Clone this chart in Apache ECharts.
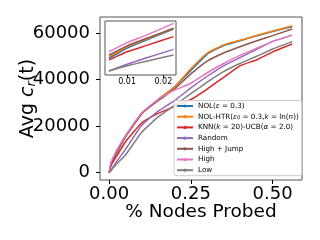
<!DOCTYPE html>
<html><head><meta charset="utf-8">
<script src="https://cdn.jsdelivr.net/npm/echarts@6/dist/echarts.min.js"></script>
<style>html,body{margin:0;padding:0;background:#fff}#c{width:320px;height:240px}</style>
</head><body><div id="c"></div>
<script>
const xValues  = [0, 0.005, 0.01, 0.015, 0.0228, 0.05, 0.1, 0.15, 0.2, 0.25, 0.3, 0.35, 0.4, 0.45, 0.5, 0.56];
const nol      = [0, 3100, 5000, 6400, 8500, 15500, 25500, 31500, 36800, 44000, 51000, 54700, 56800, 58800, 60800, 62800];
const nolHtr   = [0, 3400, 5200, 6550, 8600, 15500, 25500, 31500, 37000, 44800, 51500, 55000, 57000, 59000, 61000, 63200];
const knn      = [0, 2800, 4300, 5400, 7100, 13300, 21500, 25500, 28500, 31500, 36000, 41000, 46000, 48500, 52000, 55400];
const randomS  = [0, 750, 2000, 3100, 4750, 10000, 20500, 26500, 31000, 36500, 41500, 46000, 49500, 53000, 56500, 59200];
const highJump = [0, 3700, 5400, 6700, 8650, 15500, 25500, 31000, 36000, 42500, 48000, 51500, 54200, 56700, 59000, 61800];
const high     = [0, 4300, 6000, 7300, 9550, 16000, 25800, 31500, 35500, 38500, 43000, 47000, 50500, 53500, 56500, 59200];
const low      = [0, 750, 1700, 2500, 3700, 7600, 17500, 24000, 29000, 34000, 39000, 43500, 47000, 50000, 53200, 56400];
const seriesNames = ['NOL(ε = 0.3)', 'NOL-HTR(ε0 = 0.3,k = ln(n))', 'KNN(k = 20)-UCB(α = 2.0)', 'Random', 'High + Jump', 'High', 'Low'];
const seriesColors = ['#1f77b4', '#ff7f0e', '#d62728', '#9467bd', '#8c564b', '#e377c2', '#7f7f7f'];
const xTicks = [0, 0.25, 0.5];
const yTicks = [0, 20000, 40000, 60000];
const insetXTicks = [0.01, 0.02];
const insetRange = [0.005, 0.0228];

const allData = [nol, nolHtr, knn, randomS, highJump, high, low];
const richNames = [
  'NOL({i|ε} = 0.3)',
  'NOL-HTR({i|ε}{s|0} = 0.3,{i|k} = ln({i|n}))',
  'KNN({i|k} = 20)-UCB({i|α} = 2.0)',
  'Random', 'High + Jump', 'High', 'Low'
];
const F = 'DejaVu Sans';
const series = [];
allData.forEach((d, i) => {
  series.push({
    name: seriesNames[i], type: 'line', xAxisIndex: 0, yAxisIndex: 0,
    data: xValues.map((x, j) => [x, d[j]]), showSymbol: false, symbol: 'none',
    lineStyle: {color: seriesColors[i], width: 1.5}, itemStyle: {color: seriesColors[i]},
    z: 2, animation: false, smooth: 0.12
  });
});
allData.forEach((d, i) => {
  series.push({
    name: seriesNames[i], type: 'line', xAxisIndex: 1, yAxisIndex: 1,
    data: xValues.map((x, j) => [x, d[j]]).filter(p => p[0] >= insetRange[0] && p[0] <= insetRange[1]),
    showSymbol: false, symbol: 'none',
    lineStyle: {color: seriesColors[i], width: 1.5}, itemStyle: {color: seriesColors[i]},
    z: 6, animation: false, smooth: 0.12
  });
});
const chart = echarts.init(document.getElementById('c'), null, {renderer: 'canvas'});
chart.setOption({
  animation: false,
  textStyle: {fontFamily: F},
  grid: [
    {left: 100, right: 18, top: 17, bottom: 60, show: true, borderColor: '#555', borderWidth: 1,
     backgroundColor: 'transparent', containLabel: false, outerBoundsMode: 'none'},
    {left: 105, top: 21, width: 71, height: 54, show: true, borderColor: '#555', borderWidth: 1,
     backgroundColor: '#fff', z: 5, containLabel: false, outerBoundsMode: 'none'}
  ],
  xAxis: [
    {type: 'value', gridIndex: 0, min: -0.028, max: 0.59,
     name: '% Nodes Probed', nameLocation: 'middle', nameGap: 22.5, nameMoveOverlap: false,
     nameTextStyle: {fontSize: 18.5, color: '#000', fontFamily: F},
     axisLine: {show: false, onZero: false}, splitLine: {show: false},
     axisTick: {show: true, length: 4, customValues: xTicks, lineStyle: {color: '#000'}},
     axisLabel: {customValues: xTicks, fontSize: 18, color: '#000', margin: 5.5, fontFamily: F,
                 formatter: v => v.toFixed(2)}},
    {type: 'value', gridIndex: 1, min: 0.0039, max: 0.0235, z: 6,
     axisLine: {show: false, onZero: false}, splitLine: {show: false},
     axisTick: {show: true, length: 3, customValues: insetXTicks, lineStyle: {color: '#000'}},
     axisLabel: {customValues: insetXTicks, fontSize: 8, color: '#000', margin: 3, fontFamily: F,
                 formatter: v => v.toFixed(2)}}
  ],
  yAxis: [
    {type: 'value', gridIndex: 0, min: -3150, max: 67000,
     name: '{a|Avg }{i|c}{s|r}{a|(t)}', nameLocation: 'middle', nameGap: 61.5, nameMoveOverlap: false,
     nameTextStyle: {fontSize: 19, color: '#000', fontFamily: F,
       rich: {a: {fontSize: 19, fontFamily: F, color: '#000'},
              i: {fontSize: 19, fontStyle: 'italic', fontFamily: F, color: '#000'},
              s: {fontSize: 13, fontStyle: 'italic', fontFamily: F, color: '#000', verticalAlign: 'bottom', padding: [8, 0, 0, 0]}}},
     axisLine: {show: false, onZero: false}, splitLine: {show: false},
     axisTick: {show: true, length: 4, customValues: yTicks, lineStyle: {color: '#000'}},
     axisLabel: {customValues: yTicks, fontSize: 18, color: '#000', margin: 10, fontFamily: F,
                 formatter: v => String(v)}},
    {type: 'value', gridIndex: 1, min: 0, max: 10000, z: 6,
     axisLine: {show: false, onZero: false}, splitLine: {show: false}, axisTick: {show: false}, axisLabel: {show: false}}
  ],
  legend: {
    data: seriesNames, orient: 'vertical', left: 174, top: 100.5,
    itemWidth: 16, itemHeight: 4, itemGap: 1.7,
    padding: [1, 3, 1, 2],
    backgroundColor: 'rgba(255,255,255,0.85)', borderColor: '#ccc', borderWidth: 1, borderRadius: 2,
    z: 10,
    textStyle: {fontSize: 7.2, color: '#000', fontFamily: F, lineHeight: 9,
      rich: {i: {fontSize: 7.2, fontStyle: 'italic', fontFamily: F, lineHeight: 9},
             s: {fontSize: 5, fontStyle: 'italic', fontFamily: F, lineHeight: 9, padding: [3, 0, 0, 0]}}},
    formatter: name => richNames[seriesNames.indexOf(name)]
  },
  series: series
});
</script></body></html>
